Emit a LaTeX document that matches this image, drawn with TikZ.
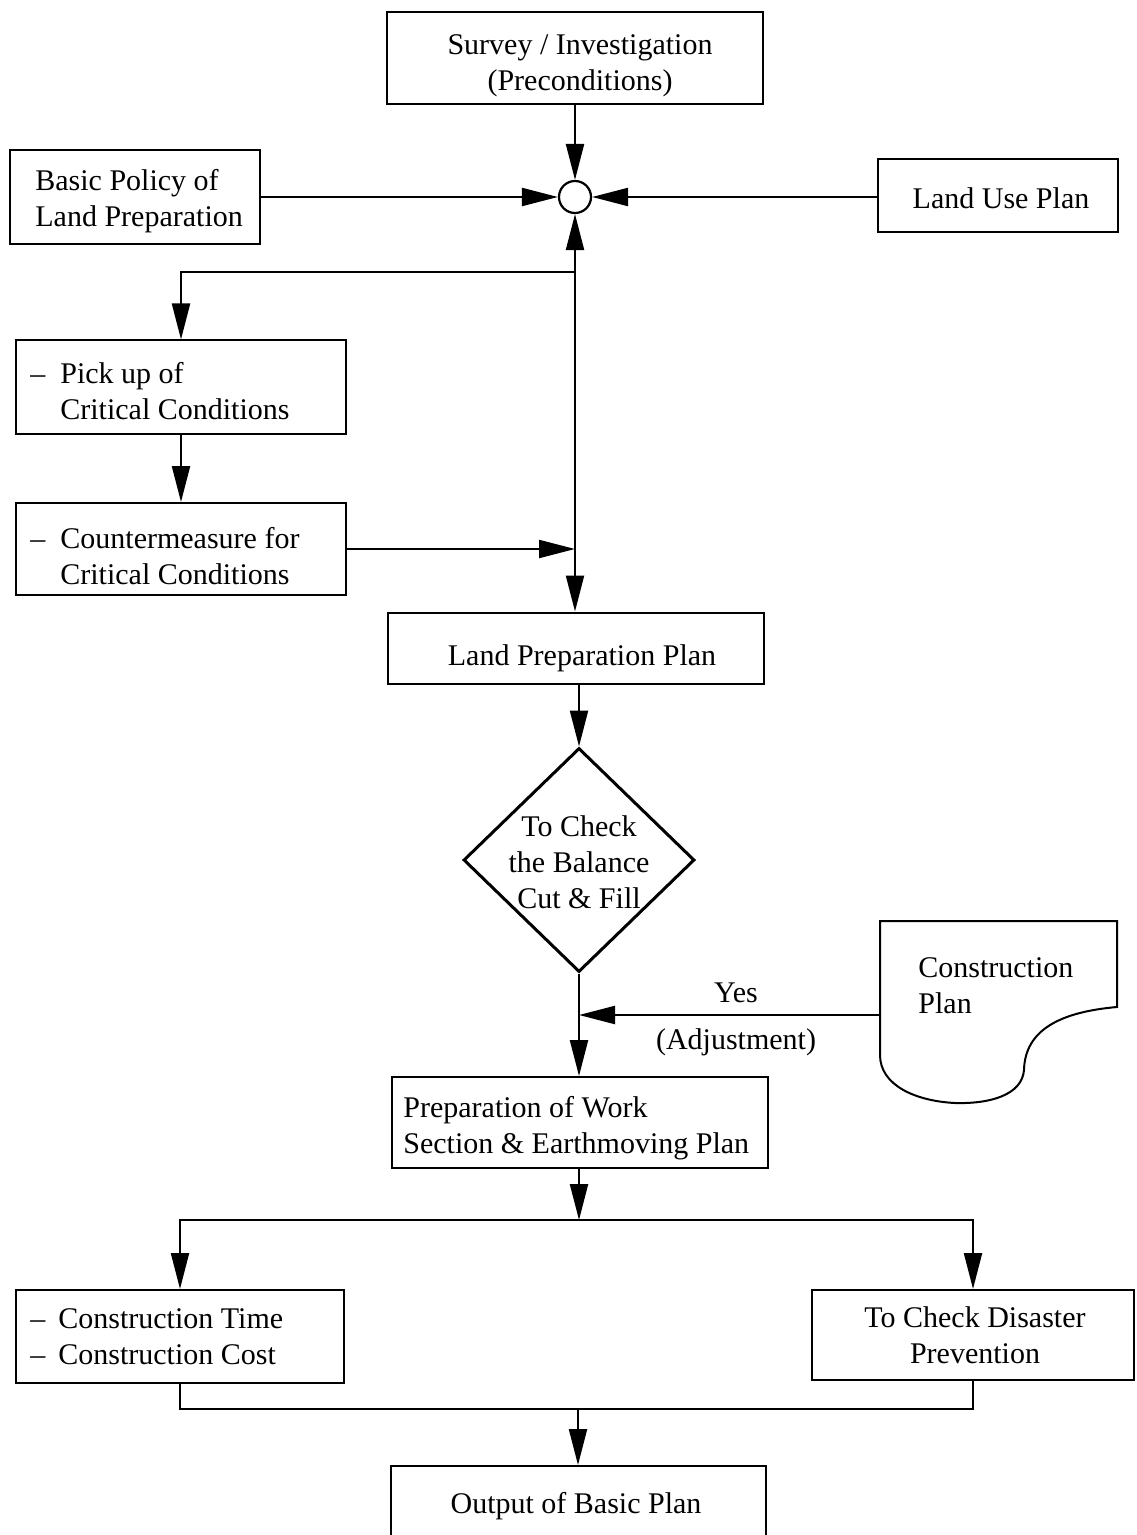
\documentclass[tikz,border=0pt]{standalone}
\usepackage{fontspec}
\setmainfont{Liberation Serif}
\usetikzlibrary{shapes.geometric,arrows.meta}
\newcommand\leaddash[1]{\makebox[#1][l]{\textendash}}
\begin{document}
\begin{tikzpicture}[x=0.5pt,y=-0.5pt,
  font=\fontsize{15}{18}\selectfont,
  box/.style={draw, line width=1pt, inner sep=0pt},
  txt/.style={inner sep=0pt, align=center},
  ltxt/.style={inner sep=0pt, align=flush left, anchor=west},
  conn/.style={line width=1.1pt},
  arr/.style={conn, -{Triangle[length=18pt,width=9pt]}},
  biarr/.style={conn, {Triangle[length=18pt,width=9pt]}-{Triangle[length=18pt,width=9pt]}},
]
\clip (0,0) rectangle (1136,1535);
\fill[white] (0,0) rectangle (1136,1535);

% boxes of the upper part
\node[box, minimum width=188pt, minimum height=46pt] (survey) at (575,58) {};
\node[txt] (survey-t) at (580,66) {Survey / Investigation\\(Preconditions)};

\node[box, minimum width=125pt, minimum height=47pt] (basic) at (135,197) {};
\node[ltxt] (basic-t) at (35,201) {Basic Policy of\\Land Preparation};

\node[box, minimum width=120pt, minimum height=36.5pt] (landuse) at (998,196) {};
\node[txt] (landuse-t) at (1001,198) {Land Use Plan};

\node[circle, draw, line width=1.1pt, minimum size=16pt, inner sep=0pt] (hub) at (575,197) {};

\node[box, minimum width=165pt, minimum height=46.5pt] (pick) at (181,387) {};
\node[ltxt] (pick-t) at (30,391)
  {\leaddash{15pt}Pick up of\\\hspace*{15pt}Critical Conditions};

\node[box, minimum width=165pt, minimum height=46pt] (counter) at (181,549) {};
\node[ltxt] (counter-t) at (30,556)
  {\leaddash{15pt}Countermeasure for\\\hspace*{15pt}Critical Conditions};

\node[box, minimum width=188pt, minimum height=35.5pt] (landprep) at (576,648) {};
\node[txt] (landprep-t) at (582,658) {Land Preparation Plan};

% decision
\node[diamond, draw, line width=1.5pt, minimum width=115.5pt, minimum height=112pt, inner sep=0pt] (check) at (579,860) {};
\node[txt] (check-t) at (579,862) {To Check\\the Balance\\Cut \& Fill};

% document symbol
\draw[line width=1pt] (880,921) -- (1117,921) -- (1117,1007)
  .. controls (1060,1012) and (1025,1030) .. (1024,1070)
  .. controls (1022,1095) and (990,1104) .. (955,1103)
  .. controls (915,1101) and (880,1085) .. (880,1055) -- cycle;
\node[ltxt] (cplan) at (918,986) {Construction\\Plan};
\coordinate (cpl) at (880,1015);

\node[box, minimum width=188pt, minimum height=45.5pt] (prep) at (580,1122.5) {};
\node[ltxt] (prep-t) at (403,1128) {Preparation of Work\\Section \& Earthmoving Plan};

\node[box, minimum width=164pt, minimum height=46.5pt] (ctime) at (180,1336.5) {};
\node[ltxt] (ctime-t) at (30,1337)
  {\leaddash{14pt}Construction Time\\\leaddash{14pt}Construction Cost};

\node[box, minimum width=161pt, minimum height=45pt] (disaster) at (973,1335) {};
\node[txt] (disaster-t) at (975,1335) {To Check Disaster\\Prevention};

\node[box, minimum width=187.5pt, minimum height=37pt] (output) at (578,1503) {};
\node[txt] (output-t) at (576,1506) {Output of Basic Plan};

% labels
\node[txt] (yes) at (736,993) {Yes};
\node[txt] (adj) at (736,1042) {(Adjustment)};

% connectors
\draw[arr] (survey.south) -- (hub.north);
\draw[arr] (basic.east |- hub) -- (hub.west);
\draw[arr] (landuse.west |- hub) -- (hub.east);
\draw[biarr] (hub.south) -- (hub.south |- landprep.north);
\coordinate (br1) at (575,272);
\draw[arr] (br1) -| (pick.north);
\draw[arr] (pick.south) -- (counter.north);
\draw[arr] (counter.east) -- (counter.east -| hub);
\draw[arr] (check.north |- landprep.south) -- (check.north);
\draw[arr] (check.south) -- (check.south |- prep.north);
\draw[arr] (cpl) -- (cpl -| check);
\coordinate (split) at (579,1220);
\draw[arr] (prep.south -| split) -- (split);
\draw[arr] (split) -| (ctime.north);
\draw[arr] (split) -| (disaster.north);
\coordinate (join) at (578,1409);
\draw[conn] (ctime.south) |- (join) -| (disaster.south);
\draw[arr] (join) -- (output.north);
\end{tikzpicture}
\end{document}
